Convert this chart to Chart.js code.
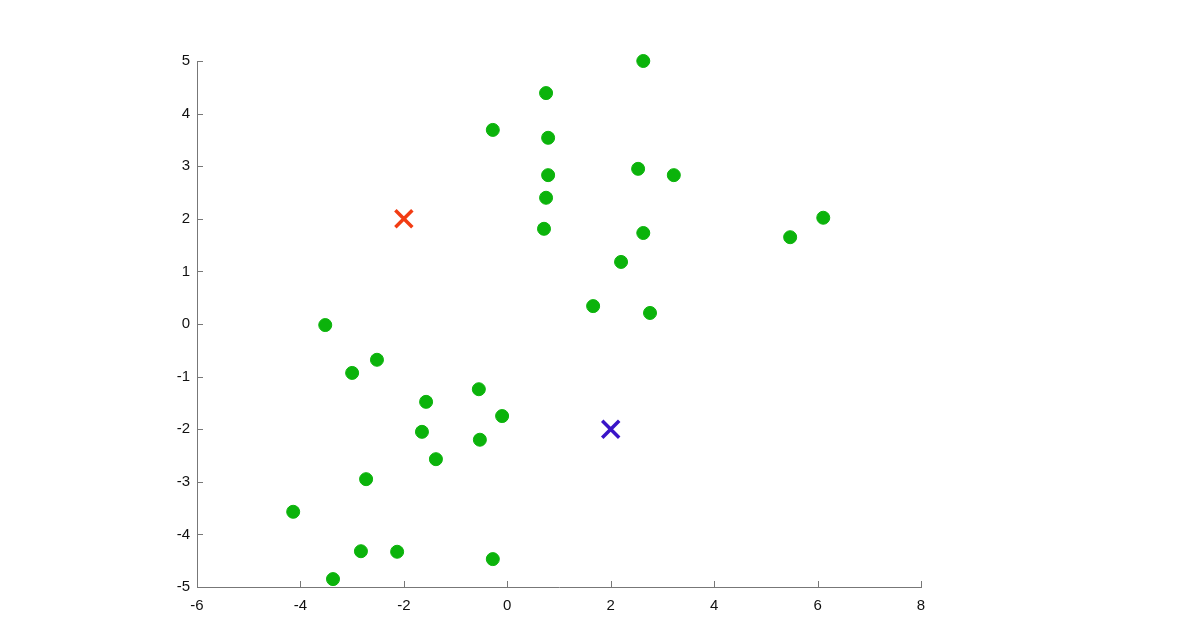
<!DOCTYPE html>
<html>
<head>
<meta charset="utf-8">
<script src="https://cdn.jsdelivr.net/npm/chart.js@4"></script>
<style>
html,body{margin:0;padding:0;background:#fff;}
#wrap{width:1199px;height:625px;}
</style>
</head>
<body>
<div id="wrap"><canvas id="plot"></canvas></div>
<script>
// data
const pointsX=[2.63,0.75,-0.28,0.79,2.53,3.22,0.79,0.75,0.71,2.63,6.11,5.47,2.2,1.66,2.76,
-3.52,-2.52,-3.0,-0.55,-1.57,-0.10,-1.65,-0.53,-1.38,-2.73,-4.14,-2.83,-2.13,-0.28,-3.37];
const pointsY=[5.0,4.39,3.69,3.54,2.95,2.83,2.83,2.40,1.81,1.73,2.02,1.65,1.18,0.34,0.21,
-0.02,-0.68,-0.93,-1.24,-1.48,-1.75,-2.05,-2.2,-2.57,-2.95,-3.57,-4.32,-4.33,-4.47,-4.85];
const redCentroid=[-2,2];
const blueCentroid=[2,-2];
const xTicks=[-6,-4,-2,0,2,4,6,8];
const yTicks=[-5,-4,-3,-2,-1,0,1,2,3,4,5];

const pts=pointsX.map((x,i)=>({x:x,y:pointsY[i]}));

// small ticks pointing into the plot, matlab style
const innerTicks={
  id:'innerTicks',
  afterDraw(c){
    const ctx=c.ctx, xs=c.scales.x, ys=c.scales.y, a=c.chartArea;
    ctx.save();
    ctx.strokeStyle='#777';
    ctx.lineWidth=1;
    ctx.beginPath();
    xTicks.forEach(v=>{
      const px=Math.round(xs.getPixelForValue(v))+0.5;
      ctx.moveTo(px,a.bottom);ctx.lineTo(px,a.bottom-6);
    });
    yTicks.forEach(v=>{
      const py=Math.round(ys.getPixelForValue(v))+0.5;
      ctx.moveTo(a.left,py);ctx.lineTo(a.left+6,py);
    });
    ctx.stroke();
    ctx.restore();
  }
};

const font={family:'"Liberation Sans", Arial, sans-serif',size:15};

new Chart(document.getElementById('plot'),{
  type:'scatter',
  data:{
    datasets:[
      {data:pts,backgroundColor:'#0bb30b',borderColor:'#0bb30b',pointRadius:6.5,pointHoverRadius:6.5,clip:false},
      {data:[{x:redCentroid[0],y:redCentroid[1]}],pointStyle:'crossRot',pointRadius:12,borderWidth:3.5,borderColor:'#f23c13',backgroundColor:'#f23c13',clip:false},
      {data:[{x:blueCentroid[0],y:blueCentroid[1]}],pointStyle:'crossRot',pointRadius:12,borderWidth:3.5,borderColor:'#3a14c8',backgroundColor:'#3a14c8',clip:false}
    ]
  },
  options:{
    responsive:true,
    maintainAspectRatio:false,
    animation:false,
    layout:{padding:{left:0,right:278,top:61,bottom:0}},
    plugins:{legend:{display:false},tooltip:{enabled:false}},
    scales:{
      x:{
        type:'linear',min:-6,max:8,
        afterBuildTicks:s=>{s.ticks=xTicks.map(v=>({value:v}));},
        afterFit:s=>{s.height=38;},
        grid:{display:true,drawOnChartArea:false,drawTicks:false},
        border:{display:true,color:'#777',width:1},
        ticks:{color:'#111',font:font,padding:10}
      },
      y:{
        type:'linear',min:-5,max:5,
        afterBuildTicks:s=>{s.ticks=yTicks.map(v=>({value:v}));},
        afterFit:s=>{s.width=197;},
        grid:{display:true,drawOnChartArea:false,drawTicks:false},
        border:{display:true,color:'#777',width:1},
        ticks:{color:'#111',font:font,padding:7}
      }
    }
  },
  plugins:[innerTicks]
});
</script>
</body>
</html>
